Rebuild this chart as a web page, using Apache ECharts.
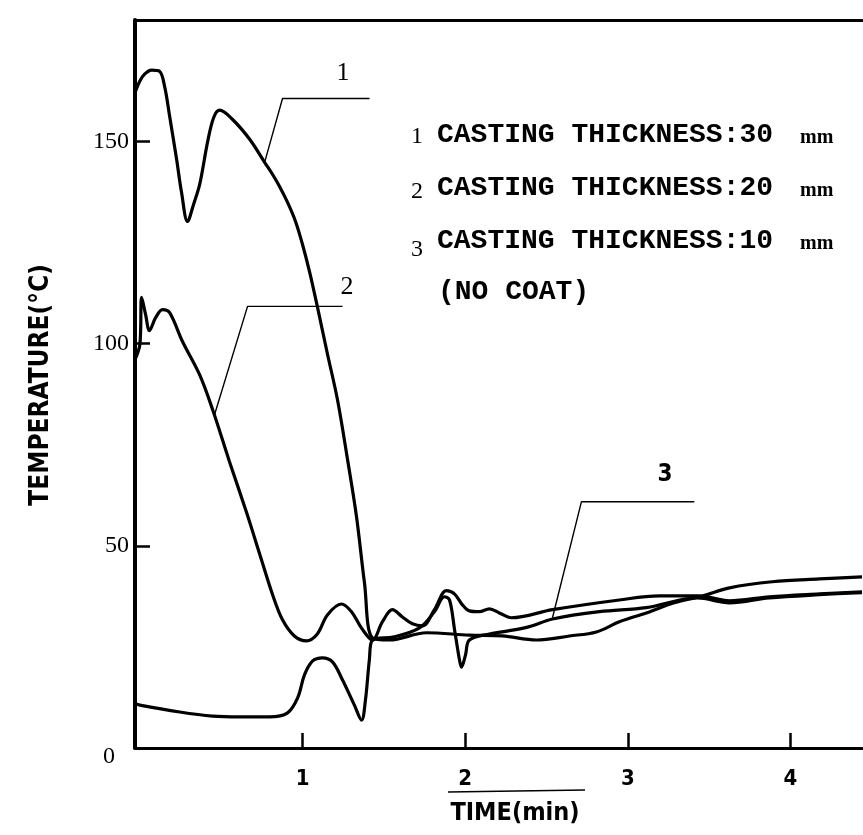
<!DOCTYPE html>
<html>
<head>
<meta charset="utf-8">
<script src="https://cdn.jsdelivr.net/npm/echarts@6/dist/echarts.min.js"></script>
<style>
html,body{margin:0;padding:0;background:#fff;}
#chart{width:863px;height:835px;}
</style>
</head>
<body>
<div id="chart"></div>
<script>
// ---- data (time in min, temperature in °C) ----
const time1 = [-0.03, 0, 0.029, 0.072, 0.121, 0.152, 0.183, 0.226, 0.256, 0.293, 0.330, 0.368, 0.417, 0.454, 0.490, 0.570, 0.675, 0.767, 0.816, 0.858, 0.908, 0.957, 1.000, 1.043, 1.086, 1.154, 1.215, 1.277, 1.332, 1.381, 1.430, 1.535, 1.762, 2.026, 2.229, 2.438, 2.641, 2.807, 2.948, 3.114, 3.286, 3.459, 3.625, 3.888, 4.178, 4.44];
const temp1 = [162.0, 164.9, 166.6, 167.6, 167.3, 163.6, 156.2, 145.5, 137.4, 130.2, 134.4, 139.4, 150.0, 155.9, 157.7, 155.4, 150.5, 144.8, 141.8, 138.9, 134.9, 130.2, 124.5, 117.8, 110.1, 97.3, 86.1, 71.3, 57.2, 40.8, 27.2, 26.7, 28.5, 27.9, 27.7, 26.7, 27.7, 28.7, 31.2, 33.4, 35.9, 37.6, 39.6, 41.1, 41.8, 42.3];

const time2 = [-0.03, 0, 0.011, 0.035, 0.059, 0.097, 0.139, 0.182, 0.262, 0.367, 0.447, 0.551, 0.656, 0.748, 0.816, 0.877, 0.950, 1.024, 1.091, 1.153, 1.239, 1.301, 1.362, 1.430, 1.491, 1.553, 1.614, 1.676, 1.737, 1.811, 1.885, 1.934, 1.983, 2.026, 2.087, 2.149, 2.210, 2.284, 2.537, 2.948, 3.194, 3.440, 3.625, 3.870, 4.178, 4.44];
const temp2 = [96.0, 99.8, 111.4, 107.2, 103.2, 106.4, 108.4, 107.7, 100.5, 92.3, 83.7, 70.8, 58.2, 46.5, 37.9, 31.7, 27.7, 26.5, 28.2, 32.9, 35.6, 33.7, 29.7, 26.7, 31.2, 34.2, 32.4, 30.7, 30.2, 34.2, 38.9, 38.1, 35.4, 33.9, 33.7, 34.4, 33.4, 32.2, 34.2, 36.6, 37.6, 37.6, 36.4, 37.4, 38.1, 38.6];

const time3 = [-0.03, 0, 0.245, 0.447, 0.614, 0.798, 0.908, 0.970, 1.012, 1.061, 1.123, 1.184, 1.246, 1.319, 1.363, 1.387, 1.411, 1.430, 1.565, 1.719, 1.811, 1.873, 1.904, 1.935, 1.965, 1.977, 2.002, 2.026, 2.149, 2.229, 2.395, 2.537, 2.826, 3.114, 3.428, 3.625, 3.870, 4.178, 4.44];
const temp3 = [11.0, 10.6, 8.9, 7.9, 7.7, 7.7, 8.7, 12.4, 18.1, 21.5, 22.3, 21.3, 16.8, 10.6, 6.9, 11.9, 21.8, 26.7, 27.5, 29.7, 33.7, 37.4, 36.6, 29.2, 21.8, 20.0, 23.0, 26.7, 28.2, 28.7, 30.0, 31.9, 33.7, 34.7, 37.1, 35.9, 37.1, 37.9, 38.4];

// leader lines for the curve labels
const leader1 = [[0.767, 144.8], [0.877, 160.6], [1.412, 160.6]];
const leader2 = [[0.459, 82.4], [0.662, 109.2], [1.246, 109.2]];
const leader3 = [[2.537, 32.2], [2.715, 60.9], [3.409, 60.9]];

const xTickValues = [1, 2, 3, 4];
const yLabelValues = [0, 50, 100, 150];
const yTickValues = [50, 100, 150];

const curveLabels = ['1', '2', '3'];
const legendLines = ['CASTING THICKNESS:30', 'CASTING THICKNESS:20', 'CASTING THICKNESS:10'];
const legendUnit = 'mm';
const legendNote = '(NO COAT)';
const xTitle = 'TIME(min)';
const yTitle = 'TEMPERATURE(°C)';

// ---- build ----
function zip(a, b) { return a.map((v, i) => [v, b[i]]); }

const chart = echarts.init(document.getElementById('chart'));
const narrow = "'Liberation Sans Narrow','DejaVu Sans Condensed','Liberation Sans',sans-serif";
const serif = "'Liberation Serif','DejaVu Serif',serif";
const mono = "'Liberation Mono','DejaVu Sans Mono',monospace";

const curveStyle = { color: '#000', width: 3.2 };
function curve(name, data) {
  return {
    name: name, type: 'line', data: data, showSymbol: false, symbol: 'none',
    smooth: 0.35, lineStyle: curveStyle, silent: true, animation: false, z: 3
  };
}
function leader(data) {
  return {
    type: 'line', data: data, showSymbol: false, symbol: 'none', smooth: false,
    lineStyle: { color: '#000', width: 1.4 }, silent: true, animation: false, z: 2
  };
}

const graphics = [];
// y axis title
graphics.push({
  type: 'text', x: 41, y: 385, rotation: Math.PI / 2,
  style: { text: yTitle, font: 'bold 26px ' + narrow, fill: '#000', textAlign: 'center', textVerticalAlign: 'middle' }
});
// x axis title + overline
graphics.push({
  type: 'text', x: 515, y: 813,
  style: { text: xTitle, font: 'bold 25px ' + narrow, fill: '#000', textAlign: 'center', textVerticalAlign: 'middle' }
});
graphics.push({
  type: 'line', shape: { x1: 448, y1: 792, x2: 585, y2: 790 },
  style: { stroke: '#000', lineWidth: 1.5 }
});
// curve number labels
graphics.push({ type: 'text', x: 343, y: 73, style: { text: curveLabels[0], font: '26px ' + serif, fill: '#000', textAlign: 'center', textVerticalAlign: 'middle' } });
graphics.push({ type: 'text', x: 347, y: 287, style: { text: curveLabels[1], font: '26px ' + serif, fill: '#000', textAlign: 'center', textVerticalAlign: 'middle' } });
graphics.push({ type: 'text', x: 665, y: 475, style: { text: curveLabels[2], font: 'bold 24px ' + narrow, fill: '#000', textAlign: 'center', textVerticalAlign: 'middle' } });
// legend block
const legY = [135, 188, 241];
const numOff = [2, 4, 9];
legendLines.forEach((t, i) => {
  graphics.push({ type: 'text', x: 417, y: legY[i] + numOff[i], style: { text: curveLabels[i], font: '24px ' + serif, fill: '#000', textAlign: 'center', textVerticalAlign: 'middle' } });
  graphics.push({ type: 'text', x: 437, y: legY[i], style: { text: t, font: 'bold 28px ' + mono, fill: '#000', textAlign: 'left', textVerticalAlign: 'middle' } });
  graphics.push({ type: 'text', x: 800, y: legY[i] + 3, style: { text: legendUnit, font: 'bold 20px ' + serif, fill: '#000', textAlign: 'left', textVerticalAlign: 'middle' } });
});
graphics.push({ type: 'text', x: 438, y: 292, style: { text: legendNote, font: 'bold 28px ' + mono, fill: '#000', textAlign: 'left', textVerticalAlign: 'middle' } });

const option = {
  backgroundColor: '#fff',
  animation: false,
  grid: { left: 135, right: 1, top: 20, bottom: 87, containLabel: false },
  xAxis: [{
    type: 'value', min: -0.03, max: 4.44, position: 'bottom',
    axisLine: { show: true, onZero: false, lineStyle: { color: '#000', width: 3 } },
    axisTick: { show: true, inside: true, length: 15, customValues: xTickValues, lineStyle: { color: '#000', width: 2.5 } },
    axisLabel: { show: true, customValues: xTickValues, margin: 20, color: '#000', fontSize: 22, fontWeight: 'bold', fontFamily: narrow },
    splitLine: { show: false }
  }, {
    type: 'value', min: -0.03, max: 4.44, position: 'top',
    axisLine: { show: true, onZero: false, lineStyle: { color: '#000', width: 3 } },
    axisTick: { show: false }, axisLabel: { show: false }, splitLine: { show: false }
  }],
  yAxis: {
    type: 'value', min: 0, max: 180,
    axisLine: { show: true, onZero: false, lineStyle: { color: '#000', width: 4 } },
    axisTick: { show: true, inside: true, length: 15, customValues: yTickValues, lineStyle: { color: '#000', width: 2.5 } },
    axisLabel: {
      show: true, customValues: yLabelValues, margin: 6, color: '#000', fontSize: 24, fontFamily: serif,
      formatter: function (v) { return v === 0 ? '{z|0}' : String(v); },
      rich: { z: { fontSize: 24, fontFamily: serif, color: '#000', padding: [18, 14, 0, 0] } }
    },
    splitLine: { show: false }
  },
  graphic: graphics,
  series: [
    curve('1 CASTING THICKNESS:30 mm', zip(time1, temp1)),
    curve('2 CASTING THICKNESS:20 mm', zip(time2, temp2)),
    curve('3 CASTING THICKNESS:10 mm', zip(time3, temp3)),
    leader(leader1), leader(leader2), leader(leader3)
  ]
};
chart.setOption(option);
</script>
</body>
</html>
